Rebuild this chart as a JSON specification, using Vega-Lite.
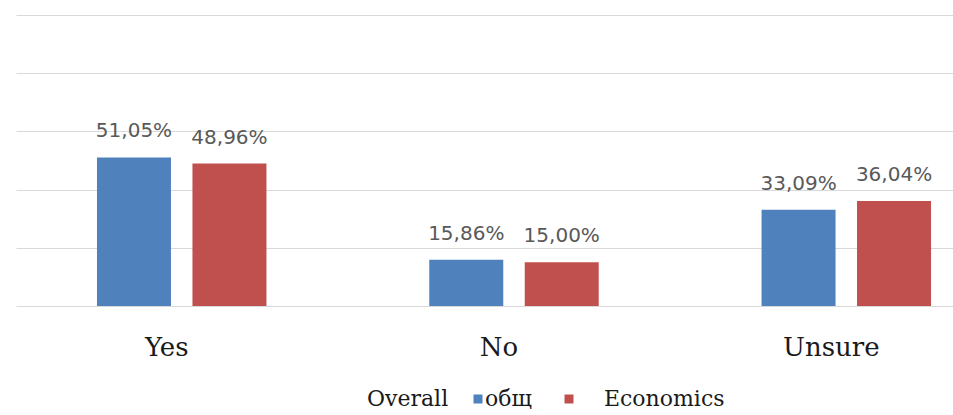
{
  "$schema": "https://vega.github.io/schema/vega-lite/v6.json",
  "autosize": {"type": "none"},
  "width": 937,
  "height": 291,
  "padding": {"left": 16, "top": 15, "right": 0, "bottom": 109},
  "background": "white",
  "config": {
    "view": {"stroke": null},
    "locale": {"number": {"decimal": ",", "thousands": "\u00a0", "grouping": [3], "currency": ["", "€"]}}
  },
  "data": {
    "values": [
      {"answer": "Yes", "group": "общ", "share": 0.5105},
      {"answer": "Yes", "group": "Economics", "share": 0.4896},
      {"answer": "No", "group": "общ", "share": 0.1586},
      {"answer": "No", "group": "Economics", "share": 0.1500},
      {"answer": "Unsure", "group": "общ", "share": 0.3309},
      {"answer": "Unsure", "group": "Economics", "share": 0.3604}
    ]
  },
  "encoding": {
    "x": {
      "field": "answer",
      "type": "nominal",
      "sort": ["Yes", "No", "Unsure"],
      "scale": {"range": [0, 996], "paddingInner": 0.49, "paddingOuter": 0.2437},
      "axis": {
        "title": null,
        "domain": false,
        "ticks": false,
        "tickSize": 0,
        "labelPadding": 49,
        "labelBaseline": "alphabetic",
        "labelOffset": -15,
        "labelFont": "DejaVu Serif",
        "labelFontSize": 26,
        "labelColor": "#1a1a1a",
        "labelAngle": 0
      }
    },
    "xOffset": {
      "field": "group",
      "type": "nominal",
      "sort": ["общ", "Economics"],
      "scale": {"paddingInner": 0.225, "paddingOuter": 0}
    },
    "y": {
      "field": "share",
      "type": "quantitative",
      "scale": {"domain": [0, 1], "nice": false},
      "axis": {
        "title": null,
        "labels": false,
        "ticks": false,
        "domain": false,
        "grid": true,
        "gridColor": "#d9d9d9",
        "gridWidth": 1,
        "values": [0, 0.2, 0.4, 0.6, 0.8, 1]
      }
    }
  },
  "layer": [
    {
      "mark": {"type": "bar"},
      "encoding": {
        "color": {
          "field": "group",
          "type": "nominal",
          "scale": {"domain": ["общ", "Economics"], "range": ["#4F81BD", "#C0504D"]},
          "legend": {
            "title": "Overall",
            "orient": "none",
            "legendX": 351,
            "legendY": 373,
            "direction": "horizontal",
            "titleOrient": "left",
            "titleFont": "DejaVu Serif",
            "titleFontSize": 22,
            "titleFontWeight": "normal",
            "titleColor": "#1a1a1a",
            "titlePadding": 18,
            "labelFont": "DejaVu Serif",
            "labelFontSize": 22,
            "labelColor": "#1a1a1a",
            "symbolType": "square",
            "symbolSize": 81,
            "symbolStrokeWidth": 0,
            "labelOffset": -4,
            "columnPadding": 26,
            "labelExpr": "datum.label === 'Economics' ? '\u200b\u00a0\u00a0\u00a0\u00a0Economics' : datum.label"
          }
        }
      }
    },
    {
      "mark": {"type": "text", "baseline": "alphabetic", "dy": -20, "font": "DejaVu Sans", "fontSize": 20, "color": "#595959"},
      "encoding": {
        "text": {"field": "share", "type": "quantitative", "format": ".2%"}
      }
    }
  ]
}
